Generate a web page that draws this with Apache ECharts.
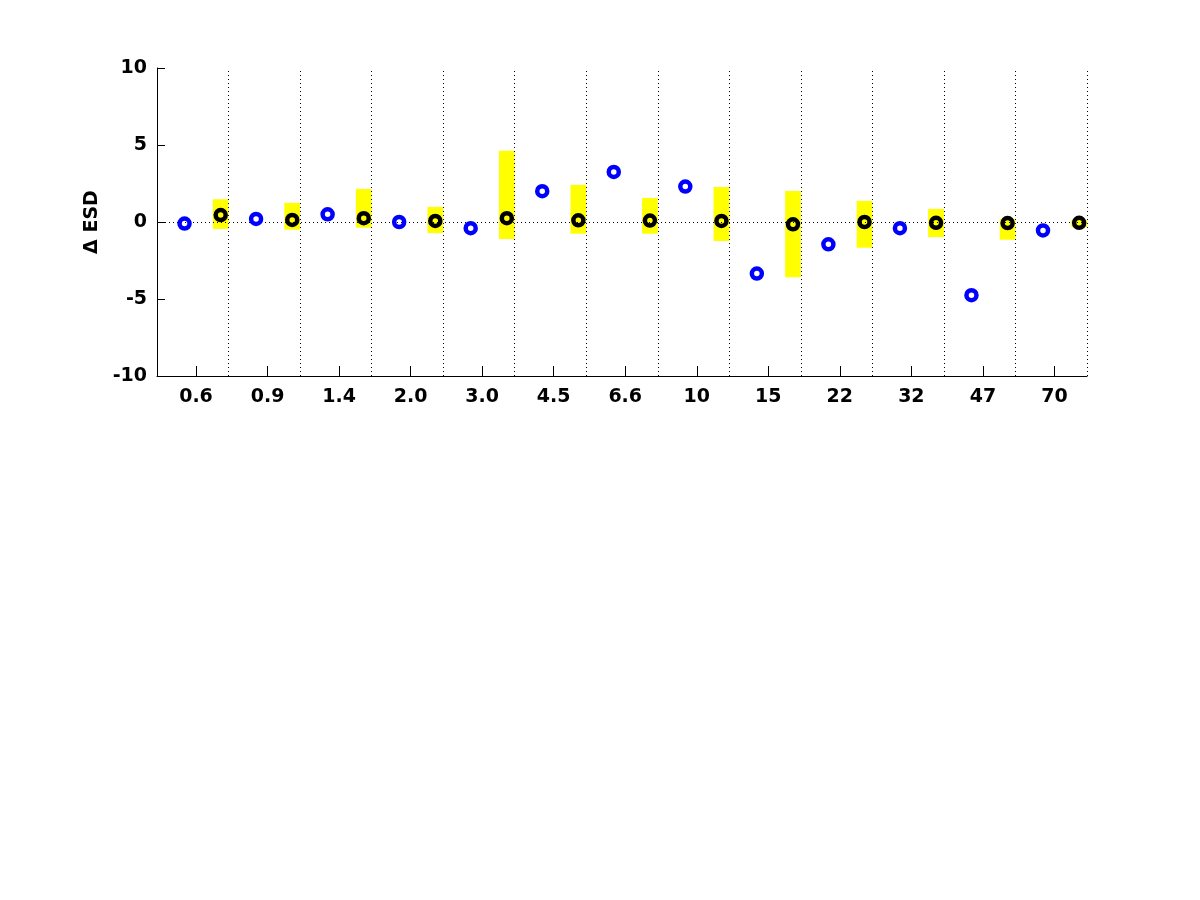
<!DOCTYPE html>
<html>
<head>
<meta charset="utf-8">
<style>
  html, body { margin: 0; padding: 0; background: #fff; }
  #chart { width: 1200px; height: 900px; }
</style>
<script src="https://cdn.jsdelivr.net/npm/echarts@6/dist/echarts.min.js"></script>
</head>
<body>
<div id="chart"></div>
<script>
  // group labels along the bottom
  var labels = ['0.6', '0.9', '1.4', '2.0', '3.0', '4.5', '6.6', '10', '15', '22', '32', '47', '70']
  // blue rings
  var blueVals = [-0.1, 0.2, 0.5, 0.0, -0.4, 2.0, 3.25, 2.3, -3.35, -1.45, -0.4, -4.75, -0.55]
  // black rings
  var blackVals = [0.45, 0.13, 0.25, 0.07, 0.25, 0.11, 0.09, 0.07, -0.15, 0.0, -0.05, -0.07, -0.05]
  // yellow ranges
  var barLow = [-0.45, -0.5, -0.37, -0.72, -1.1, -0.76, -0.76, -1.24, -3.58, -1.67, -0.98, -1.15, -0.33]
  var barHigh = [1.48, 1.24, 2.15, 0.98, 4.62, 2.41, 1.56, 2.28, 2.02, 1.37, 0.85, 0.2, 0.13]
  var yTicks = [-10, -5, 0, 5, 10]

  var TICK_OFF = 0.545, BLUE_OFF = 0.385, BLACK_OFF = 0.89, BAR_W = 0.22
  var font = 'DejaVu Sans, Liberation Sans, sans-serif'

  var tickPos = labels.map(function (l, i) { return i + TICK_OFF })
  var blueData = blueVals.map(function (v, i) { return [i + BLUE_OFF, v] })
  var blackData = blackVals.map(function (v, i) { return [i + BLACK_OFF, v] })
  var barData = barLow.map(function (v, i) { return [i + BLACK_OFF, v, barHigh[i]] })
  var dotted = { color: '#000', width: 1, type: [1, 3] }
  var vLines = labels.map(function (l, i) { return { xAxis: i + 1 } })

  var chart = echarts.init(document.getElementById('chart'))
  chart.setOption({
    animation: false,
    backgroundColor: '#fff',
    grid: { left: 157, right: 113, top: 68, bottom: 524 },
    xAxis: {
      type: 'value',
      min: 0,
      max: labels.length,
      axisLine: { onZero: false, lineStyle: { color: '#000', width: 1 } },
      axisTick: { inside: true, length: 10, customValues: tickPos, lineStyle: { color: '#000' } },
      axisLabel: {
        customValues: tickPos,
        color: '#000',
        fontSize: 19,
        fontWeight: 'bold',
        fontFamily: font,
        margin: 12,
        formatter: function (v) { return labels[Math.round(v - TICK_OFF)] || '' }
      },
      splitLine: { show: false }
    },
    yAxis: {
      type: 'value',
      min: yTicks[0],
      max: yTicks[yTicks.length - 1],
      interval: 5,
      name: 'Δ ESD',
      nameLocation: 'middle',
      nameGap: 52,
      nameTextStyle: { color: '#000', fontSize: 19, fontWeight: 'bold', fontFamily: font },
      axisLine: { show: true, onZero: false, lineStyle: { color: '#000', width: 1 } },
      axisTick: { inside: true, length: 8, lineStyle: { color: '#000' } },
      axisLabel: { color: '#000', fontSize: 19, fontWeight: 'bold', fontFamily: font, margin: 10 },
      splitLine: { show: false }
    },
    series: [
      {
        type: 'custom',
        z: 1,
        data: barData,
        encode: { x: 0, y: [1, 2] },
        renderItem: function (params, api) {
          var lo = api.coord([api.value(0), api.value(1)])
          var hi = api.coord([api.value(0), api.value(2)])
          var w = api.size([BAR_W, 0])[0]
          return {
            type: 'rect',
            shape: { x: lo[0] - w / 2, y: hi[1], width: w, height: lo[1] - hi[1] },
            style: { fill: '#ffff00' }
          }
        },
        markLine: {
          silent: true,
          symbol: 'none',
          label: { show: false },
          lineStyle: dotted,
          data: vLines.concat([{ yAxis: 0 }])
        }
      },
      {
        type: 'scatter',
        z: 6,
        data: blueData,
        symbol: 'circle',
        symbolSize: 10,
        itemStyle: { color: 'rgba(0,0,0,0)', borderColor: '#0000ff', borderWidth: 4.5, opacity: 1 }
      },
      {
        type: 'scatter',
        z: 6,
        data: blackData,
        symbol: 'circle',
        symbolSize: 10,
        itemStyle: { color: 'rgba(0,0,0,0)', borderColor: '#000', borderWidth: 4.5, opacity: 1 }
      }
    ]
  })
</script>
</body>
</html>
